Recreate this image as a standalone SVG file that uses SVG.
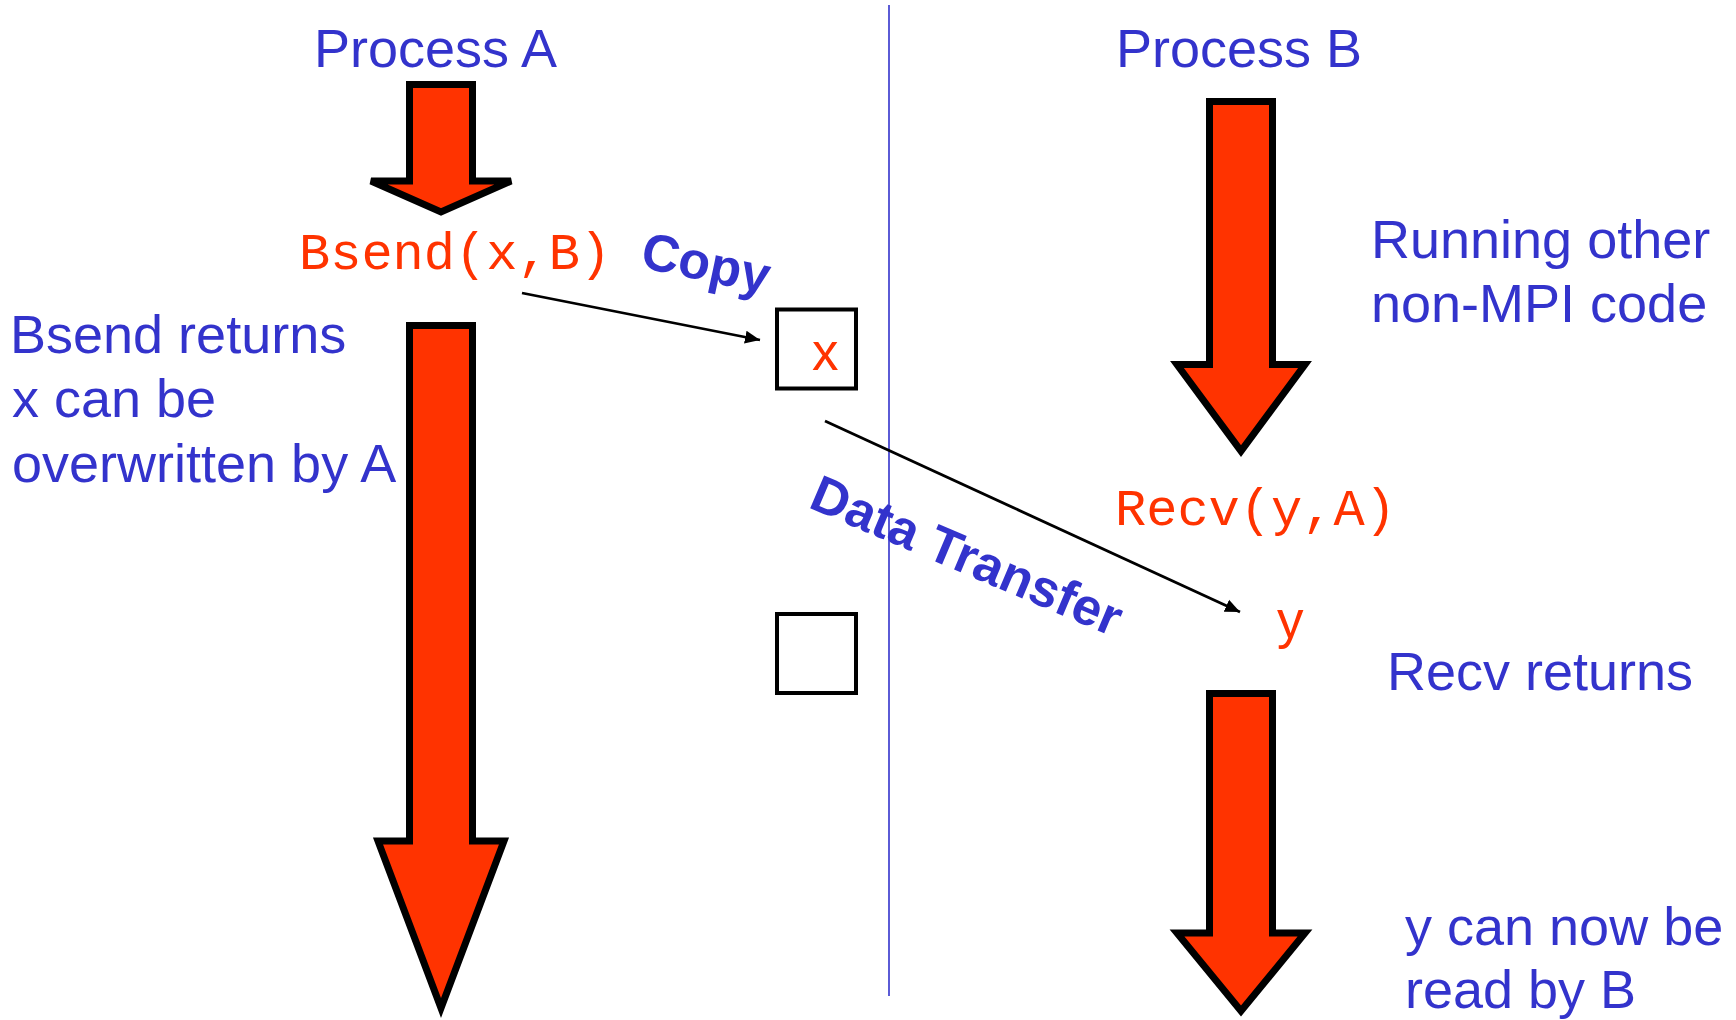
<svg xmlns="http://www.w3.org/2000/svg" width="1736" height="1020" viewBox="0 0 1736 1020">
<style>
.lbl{font-family:"Liberation Sans",Arial,sans-serif;font-size:54px;fill:#3333CC}
.bold{font-weight:bold;font-size:52px}
.code{font-family:"Liberation Mono","Courier New",monospace;font-size:52px;fill:#FF3300}
.var{font-family:"Liberation Sans",Arial,sans-serif;font-size:53px;fill:#FF3300}
.flow{fill:#FF3300;stroke:#000;stroke-width:7;stroke-linejoin:miter}
.buf{fill:#fff;stroke:#000;stroke-width:4}
.conn{stroke:#000;stroke-width:2.8;fill:none;marker-end:url(#ah)}
</style>
<defs>
<marker id="ah" markerUnits="userSpaceOnUse" markerWidth="16" markerHeight="14" refX="15" refY="7" orient="auto">
<path d="M0,0.5 L15,7 L0,13.5 z" fill="#000"/>
</marker>
</defs>
<rect width="1736" height="1020" fill="#fff"/>
<line id="divider" x1="889" y1="5" x2="889" y2="996" stroke="#3333CC" stroke-width="1.6"/>
<g id="processA">
<text class="lbl" x="314" y="67">Process A</text>
</g>
<g id="processB">
<text class="lbl" x="1116" y="67">Process B</text>
</g>
<g id="flowA1"><polygon class="flow" points="409.5,84.5 472.5,84.5 472.5,181 511,181 441,212 371,181 409.5,181"/></g>
<g id="flowA2"><polygon class="flow" points="409.5,325.5 472.5,325.5 472.5,841 504,841 441,1008 378,841 409.5,841"/></g>
<g id="flowB1"><polygon class="flow" points="1209.5,101.5 1272.5,101.5 1272.5,364.5 1305,364.5 1241,451 1177,364.5 1209.5,364.5"/></g>
<g id="flowB2"><polygon class="flow" points="1209.5,693.5 1272.5,693.5 1272.5,933 1305,933 1241,1011 1177,933 1209.5,933"/></g>
<g id="bsend"><text class="code" x="299" y="269">Bsend(x,B)</text></g>
<g id="recv"><text class="code" x="1115" y="525">Recv(y,A)</text></g>
<g id="bufferX">
<rect class="buf" x="777" y="309.5" width="79" height="79"/>
<text class="var" x="812" y="370">x</text>
</g>
<g id="bufferEmpty">
<rect class="buf" x="777" y="614" width="79" height="79"/>
</g>
<g id="recvY"><text class="var" x="1277" y="638">y</text></g>
<g id="noteBsend">
<text class="lbl" x="10" y="353">Bsend returns</text>
<text class="lbl" x="12" y="417">x can be</text>
<text class="lbl" x="12" y="482">overwritten by A</text>
</g>
<g id="noteRunning">
<text class="lbl" x="1371" y="258">Running other</text>
<text class="lbl" x="1371" y="322">non-MPI code</text>
</g>
<g id="noteRecv"><text class="lbl" x="1387" y="690">Recv returns</text></g>
<g id="noteRead">
<text class="lbl" x="1405" y="945">y can now be</text>
<text class="lbl" x="1405" y="1008">read by B</text>
</g>
<g id="connectors">
<line class="conn" x1="522" y1="293" x2="760" y2="340"/>
<line class="conn" x1="825" y1="421" x2="1240" y2="612"/>
<text class="lbl bold" transform="translate(639,267) rotate(12)">Copy</text>
<text class="lbl bold" transform="translate(807,507) rotate(23)">Data Transfer</text>
</g>
</svg>
